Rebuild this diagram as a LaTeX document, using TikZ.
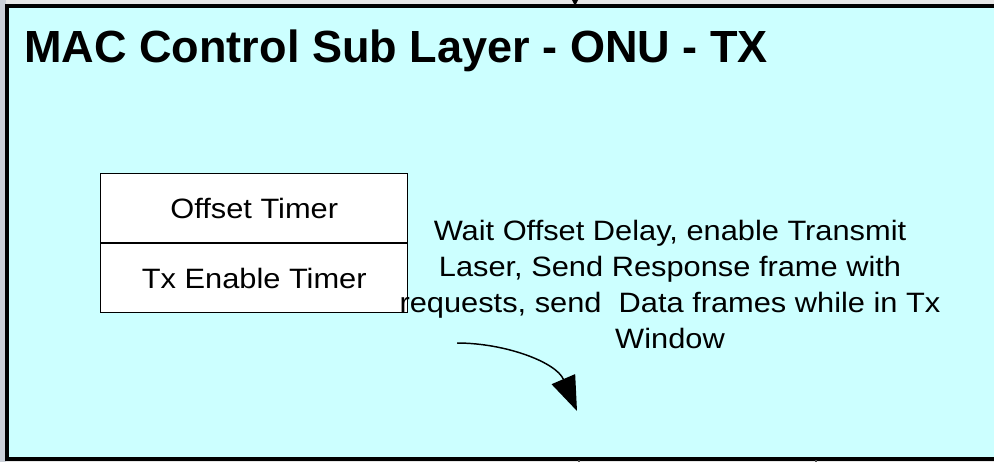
\documentclass[tikz,border=0pt]{standalone}
\usepackage{fontspec}
\setmainfont{Liberation Sans}
\newfontfamily\widesans[FakeStretch=1.1]{Liberation Sans}
\usetikzlibrary{arrows.meta}
\definecolor{panelfill}{HTML}{CCFFFF}
\definecolor{pagegray}{HTML}{E6E6E6}
\definecolor{sidegray}{HTML}{CBD0D8}
\tikzset{
  timerbox/.style={draw=black, line width=1.1pt, fill=white, minimum width=230.25pt,
    minimum height=51.4pt, inner sep=0pt, font=\widesans\fontsize{21}{24}\selectfont},
  bodytext/.style={align=center, inner sep=0pt, font=\widesans\fontsize{21}{27}\selectfont},
}
\begin{document}
\begin{tikzpicture}[x=0.75pt, y=-0.75pt]
  \useasboundingbox (0,0) rectangle (994,462);
  \clip (0,0) rectangle (994,462);
  % surrounding page
  \fill[pagegray] (0,0) rectangle (994,462);
  \fill[sidegray] (0,0) rectangle (6,462);
  % main panel, right edge runs past the page
  \draw[line width=2.4pt, fill=panelfill] (7,6) rectangle (1010,459);
  % incoming arrow tip at the top edge
  \fill[black] (572,0) -- (578,0) -- (575,6) -- cycle;
  % marks below the panel
  \draw[line width=1.2pt, black!70] (579,460) -- (579,462);
  \draw[line width=1.2pt, black!70] (816,460) -- (816,462);
  % title
  \node[anchor=base west, inner sep=0pt, font=\fontsize{33.8}{40}\selectfont\bfseries]
    (title) at (24,62) {MAC Control Sub Layer - ONU - TX};
  % timer stack
  \node[timerbox, anchor=north west] (offset) at (100,173) {Offset Timer};
  \node[timerbox, anchor=north] (txenable) at (offset.south) {Tx Enable Timer};
  % description
  \node[bodytext, anchor=north] (desc) at (670,220)
    {Wait Offset Delay, enable Transmit\\Laser, Send Response frame with\\requests, send\ \ Data frames while in Tx\\Window};
  % curved arrow
  \coordinate (arrowstart) at (457,343);
  \coordinate (arrowend) at (577,411);
  \draw[line width=1.1pt, -{Triangle[length=26pt, width=19pt]}]
    (arrowstart) .. controls (505,343) and (556,362) .. (arrowend);
\end{tikzpicture}
\end{document}
